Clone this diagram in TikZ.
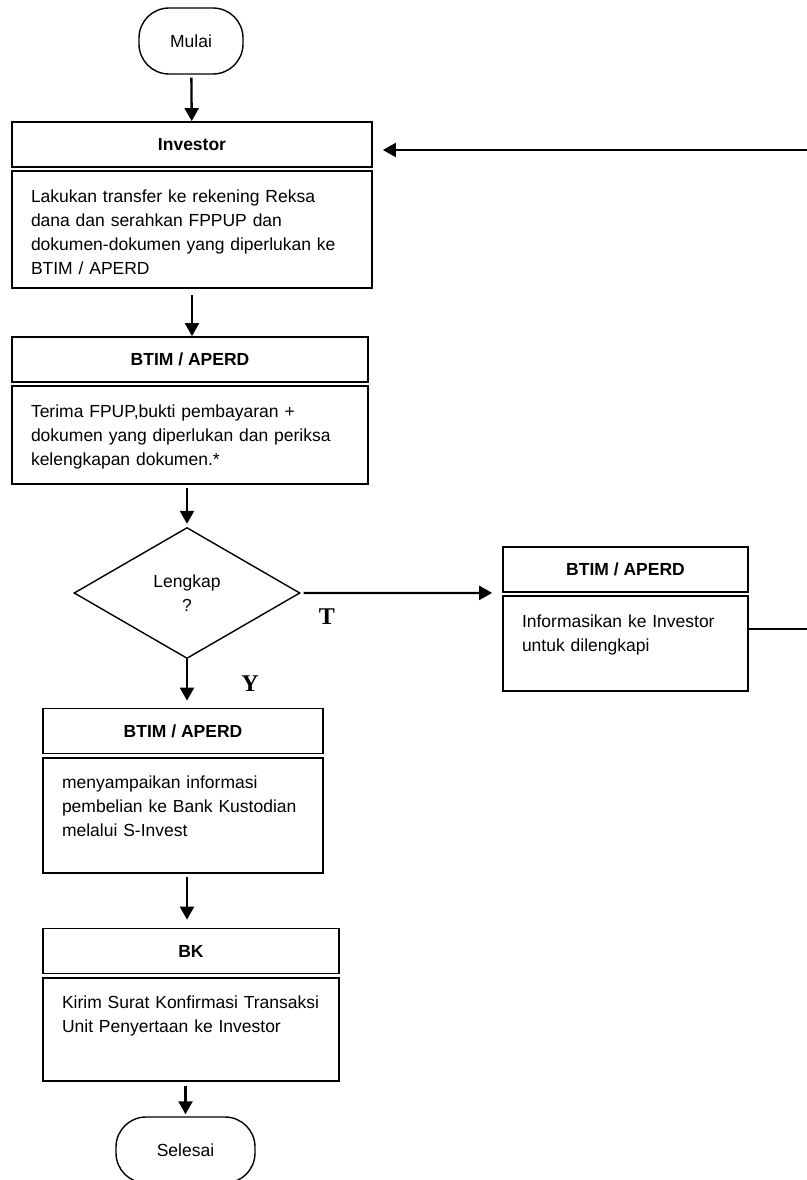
\documentclass[tikz,border=0pt]{standalone}
\usepackage{fontspec}
\setmainfont{Liberation Sans}
\newfontfamily\yesnofont{Liberation Serif}
\usetikzlibrary{shapes.geometric,arrows.meta}

\begin{document}
\begin{tikzpicture}[x=1pt, y=1pt, ->, >={Triangle[length=13pt,width=14pt]}, line width=2.3pt,
  every node/.style={font=\fontsize{17.5}{24}\selectfont},
  term/.style={draw, line width=1.4pt, rounded corners=30pt, minimum height=66pt, inner sep=0pt},
  head/.style={draw, line width=1.8pt, minimum height=45pt, inner sep=0pt, font=\fontsize{17.5}{24}\selectfont\bfseries},
  body/.style={draw, line width=1.8pt, anchor=north, align=left, inner xsep=19pt, inner ysep=0pt, text height=31pt},
  cond/.style={draw, diamond, line width=1.4pt, minimum width=226pt, minimum height=131pt, inner sep=0pt, align=center},
  yn/.style={font=\fontsize{24}{24}\yesnofont\bfseries}]

  \useasboundingbox (0,0) rectangle (806,-1180);

  \node [term, minimum width=104pt] (start) at (191,-41) {Mulai};

  \node [head, minimum width=360pt] (invhdr) at (192,-144.5) {Investor};
  \node [body, text width=322pt, text depth=86pt] (invbody) at ([yshift=-2.5pt]invhdr.south)
    {Lakukan transfer ke rekening Reksa\\dana dan serahkan FPPUP dan\\dokumen-dokumen yang diperlukan ke\\BTIM / APERD};

  \node [head, minimum width=356pt] (btimhdr) at (190,-359.5) {BTIM / APERD};
  \node [body, text width=318pt, text depth=67pt] (btimbody) at ([yshift=-2.5pt]btimhdr.south)
    {Terima FPUP,bukti pembayaran +\\dokumen yang diperlukan dan periksa\\kelengkapan dokumen.*};

  \node [cond] (dec) at (187,-593) {Lengkap\\?};

  \node [head, minimum width=245pt] (infohdr) at (625.5,-569.5) {BTIM / APERD};
  \node [body, text width=207pt, text depth=64pt] (infobody) at ([yshift=-2.5pt]infohdr.south)
    {Informasikan ke Investor\\untuk dilengkapi};

  \node [head, minimum width=280pt] (btim2hdr) at (183,-731) {BTIM / APERD};
  \node [body, text width=242pt, text depth=84pt] (btim2body) at ([yshift=-2.5pt]btim2hdr.south)
    {menyampaikan informasi\\pembelian ke Bank Kustodian\\melalui S-Invest};

  \node [head, minimum width=296pt] (bkhdr) at (191,-951) {BK};
  \node [body, text width=258pt, text depth=72pt] (bkbody) at ([yshift=-2.5pt]bkhdr.south)
    {Kirim Surat Konfirmasi Transaksi\\Unit Penyertaan ke Investor};

  \node [term, minimum width=139pt] (stop) at (185.5,-1150) {Selesai};

  \coordinate (back) at (812,-150);

  \draw [shorten <=3pt] (start) -- (invhdr);
  \draw [shorten <=6pt] (invbody.south) -- (invbody.south |- btimhdr.north);
  \draw [shorten <=3pt, shorten >=3pt] (dec.north |- btimbody.south) -- (dec.north);
  \draw [shorten <=3pt, shorten >=10pt] (dec.east) -- (infohdr.south west)
    node [pos=0.13, yshift=-24pt, yn] {T};
  \draw [shorten >=7pt] (dec.south) -- (dec.south |- btim2hdr.north)
    node [pos=0.5, xshift=63pt, yn] {Y};
  \draw [shorten <=3pt, shorten >=8pt] (dec.south |- btim2body.south) -- (dec.south |- bkhdr.north);
  \draw [shorten <=4pt, shorten >=2pt] (bkbody.south -| stop.north) -- (stop.north);
  \draw [shorten >=10pt] ([yshift=15pt]infobody.east) -| (back) -- (invhdr.east |- back);
\end{tikzpicture}
\end{document}
